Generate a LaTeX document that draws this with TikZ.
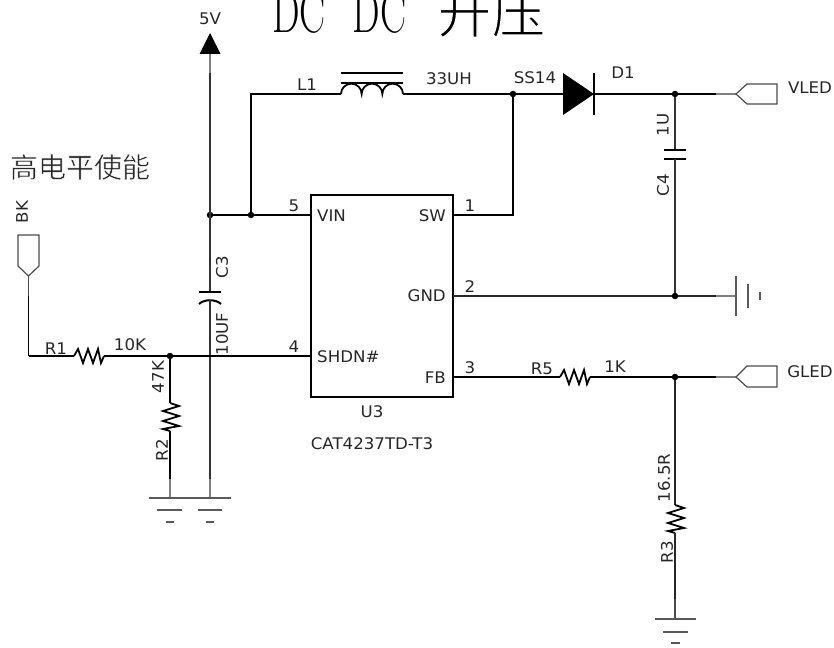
\documentclass[tikz,border=0pt]{standalone}
\usepackage{graphicx}
\usepackage{fontspec}
\setsansfont[FakeStretch=1.04]{DejaVu Sans}
\newfontfamily\cjkfont{Noto Sans CJK SC}
\newcommand{\thinstart}[1]{\special{pdf:code 2 Tr #1 w 1 1 1 RG}}
\newcommand{\thinstop}{\special{pdf:code 0 Tr 0.4 w 0 0 0 RG}}
\tikzset{
  wire/.style={line width=2.1pt,black,line join=miter},
  thinwire/.style={line width=1.6pt,black!80},
  stub/.style={line width=1.7pt,black!50},
  portline/.style={line width=1.2pt,black!70},
  gnd/.style={line width=1.2pt,black!65},
  plate/.style={line width=2pt,black},
  lbl/.style={font=\sffamily\fontsize{16}{16}\selectfont,text=black!85,inner sep=0pt},
  lblr/.style={lbl,rotate=90},
  dot/.style={circle,fill=black,inner sep=0pt,minimum size=6.5pt},
  hres/.pic={\draw[line width=1.8pt,line join=miter] (0,0) -- (4,-7) -- (9,7) -- (14,-7) -- (19,7) -- (24,-7) -- (27,7) -- (30,0);},
  vres/.pic={\draw[line width=1.8pt,line join=miter] (0,0) -- (9,3) -- (-7,8) -- (9,13) -- (-7,18) -- (9,23) -- (-7,26) -- (0,28);},
}
\begin{document}
\begin{tikzpicture}[x=1pt,y=-1pt]
\useasboundingbox (0,0) rectangle (834,647);
\clip (0,0) rectangle (834,647);
% title and note
\node[anchor=base west,inner sep=0pt,text=black] (title) at (272,33) {\fontsize{60}{60}\selectfont\scalebox{.65}[1]{DC}\hspace{27pt}\scalebox{.65}[1]{DC}\hspace{31pt}{\cjkfont\fontsize{54}{54}\selectfont\thinstart{1.2}升压\thinstop}};
\node[inner sep=0pt,text=black!85] (note) at (80,167) {\cjkfont\fontsize{28}{28}\selectfont\thinstart{0.5}高电平使能\thinstop};
% IC
\node[draw,line width=1.9pt,minimum width=142pt,minimum height=202pt,inner sep=0pt] (ic) at (382,296) {};
\coordinate (vin) at (311,215);
\coordinate (sw) at (453,215);
\coordinate (gndp) at (453,296);
\coordinate (shdn) at (311,356);
\coordinate (fb) at (453,377);
% junctions
\node[dot] (j5v) at (210,215) {};
\node[dot] (jl) at (251,215) {};
\node[dot] (jsw) at (513,94) {};
\node[dot] (jc4a) at (675,94) {};
\node[dot] (jc4b) at (675,296) {};
\node[dot] (jr2) at (170,356) {};
\node[dot] (jr3) at (675,377) {};
\coordinate (jc3) at (210,356);
% 5V rail
\coordinate (vcc) at (210,54);
\coordinate (c3a) at (210,292);
\coordinate (c3b) at (210,300);
\coordinate (c3g) at (210,479);
\coordinate (c3h) at (210,498);
\fill[black] (210,33) -- (220.5,54) -- (199.5,54) -- cycle;
\draw[stub] (vcc) -- (210,73);
\draw[thinwire] (210,73) -- (c3a);
\draw[plate] (199,292) -- (221,292);
\draw[plate] (199,304) .. controls (204,299) and (216,299) .. (221,304);
\draw[thinwire] (c3b) -- (c3g);
\draw[stub] (c3g) -- (c3h);
\draw[wire] (j5v) -- (vin);
% inductor branch
\coordinate (la) at (341,94);
\coordinate (lb) at (403,94);
\draw[wire] (jl) |- (la);
\draw[line width=1.8pt] (la) arc[start angle=180,end angle=0,radius=10.33pt] arc[start angle=180,end angle=0,radius=10.33pt] arc[start angle=180,end angle=0,radius=10.33pt];
\draw[plate] (341,73) -- (403,73);
\draw[plate] (341,83.5) -- (403,83.5);
\coordinate (da) at (563,94);
\coordinate (dk) at (594,94);
\draw[wire] (lb) -- (jsw) -- (da);
\draw[wire] (sw) -| (jsw);
% diode
\fill[black] (563,73) -- (594,94) -- (563,115) -- cycle;
\draw[line width=1.3pt] (594,73) -- (594,115);
\coordinate (ve) at (716,94);
\coordinate (vtip) at (736,94);
\draw[wire] (dk) -- (jc4a) -- (ve);
\draw[stub] (ve) -- (vtip);
\draw[portline] (vtip) -- (747,84) -- (777,84) -- (777,104) -- (747,104) -- cycle;
% C4
\coordinate (c4a) at (675,150);
\coordinate (c4b) at (675,159);
\draw[thinwire] (jc4a) -- (c4a);
\draw[plate] (664,150) -- (686,150);
\draw[plate] (664,159) -- (686,159);
\draw[thinwire] (c4b) -- (jc4b);
% GND line
\coordinate (ge) at (716,296);
\coordinate (gt) at (736,296);
\draw[line width=1.8pt,black!85] (gndp) -- (jc4b) -- (ge);
\draw[stub] (ge) -- (gt);
\draw[gnd] (736,276) -- (736,316);
\draw[gnd] (748,284) -- (748,308);
\draw[gnd] (760,292) -- (760,300);
% BK and R1
\coordinate (bktip) at (28.5,276);
\coordinate (bke) at (28.5,296);
\coordinate (bkc) at (28.5,356);
\draw[portline] (bktip) -- (18,266) -- (18,235) -- (39,235) -- (39,266) -- cycle;
\draw[line width=1.2pt,black!70] (bktip) -- (bke);
\draw[line width=1.8pt] (bke) -- (bkc);
\coordinate (r1a) at (74,356);
\coordinate (r1b) at (104,356);
\draw[wire] (bkc) -- (r1a);
\pic at (r1a) {hres};
\draw[wire] (r1b) -- (jr2) -- (jc3) -- (shdn);
% R2
\coordinate (r2a) at (170,403);
\coordinate (r2b) at (170,431);
\coordinate (r2c) at (170,479);
\coordinate (r2g) at (170,498);
\draw[wire] (jr2) -- (r2a);
\pic at (r2a) {vres};
\draw[wire] (r2b) -- (r2c);
\draw[stub] (r2c) -- (r2g);
\draw[gnd] (149,498) -- (231,498);
\draw[gnd] (157,510) -- (182,510);
\draw[gnd] (198,510) -- (222,510);
\draw[gnd] (166,522) -- (174,522);
\draw[gnd] (206,522) -- (214,522);
% FB and R5
\coordinate (r5a) at (560,377);
\coordinate (r5b) at (590,377);
\draw[wire] (fb) -- (r5a);
\pic at (r5a) {hres};
\coordinate (ge2) at (716,377);
\coordinate (gt2) at (736,377);
\draw[wire] (r5b) -- (jr3) -- (ge2);
\draw[stub] (ge2) -- (gt2);
\draw[portline] (gt2) -- (747,366) -- (777,366) -- (777,387) -- (747,387) -- cycle;
% R3
\coordinate (r3a) at (675,505);
\coordinate (r3b) at (675,533);
\coordinate (r3c) at (675,599);
\coordinate (r3g) at (675,619);
\draw[line width=1.8pt,black!85] (jr3) -- (r3a);
\pic at (r3a) {vres};
\draw[line width=1.8pt,black!85] (r3b) -- (r3c);
\draw[line width=1.2pt,black!70] (r3c) -- (r3g);
\draw[gnd] (655,619) -- (696,619);
\draw[gnd] (663,632) -- (688,632);
\draw[gnd] (671,643) -- (680,643);
% labels
\node[lbl] (t5v) at (210,19) {5V};
\node[lbl] (tl1) at (307,85) {L1};
\node[lbl] (t33) at (449,79) {33UH};
\node[lbl] (tss) at (535,78) {SS14};
\node[lbl] (td1) at (623,73) {D1};
\node[lbl] (tvled) at (810,88) {VLED};
\node[lbl] (tgled) at (810,372) {GLED};
\node[lblr] (t1u) at (663,125) {1U};
\node[lblr] (tc4) at (663,185) {C4};
\node[lblr] (tc3) at (222,267) {C3};
\node[lblr] (t10uf) at (222,334) {10UF};
\node[lblr] (tbk) at (22,212) {BK};
\node[lbl] (tr1) at (56,349) {R1};
\node[lbl] (t10k) at (130,345) {10K};
\node[lblr] (t47k) at (158,377) {47K};
\node[lblr] (tr2) at (162,450) {R2};
\node[lbl] (tp5) at (294,206) {5};
\node[lbl] (tp1) at (470,206) {1};
\node[lbl] (tp2) at (470,287) {2};
\node[lbl] (tp4) at (294,347) {4};
\node[lbl] (tp3) at (470,368) {3};
\node[lbl,anchor=west] (tvin) at (317,216) {VIN};
\node[lbl,anchor=east] (tsw) at (446,216) {SW};
\node[lbl,anchor=east] (tgnd) at (446,296) {GND};
\node[lbl,anchor=west] (tshdn) at (317,357) {SHDN\#};
\node[lbl,anchor=east] (tfb) at (446,378) {FB};
\node[lbl] (tu3) at (372,412) {U3};
\node[lbl] (tcat) at (372,444) {CAT4237TD-T3};
\node[lbl] (tr5) at (542,369) {R5};
\node[lbl] (t1k) at (615,367) {1K};
\node[lblr] (t165) at (664,478) {16.5R};
\node[lblr] (tr3) at (667,552) {R3};
\end{tikzpicture}
\end{document}
